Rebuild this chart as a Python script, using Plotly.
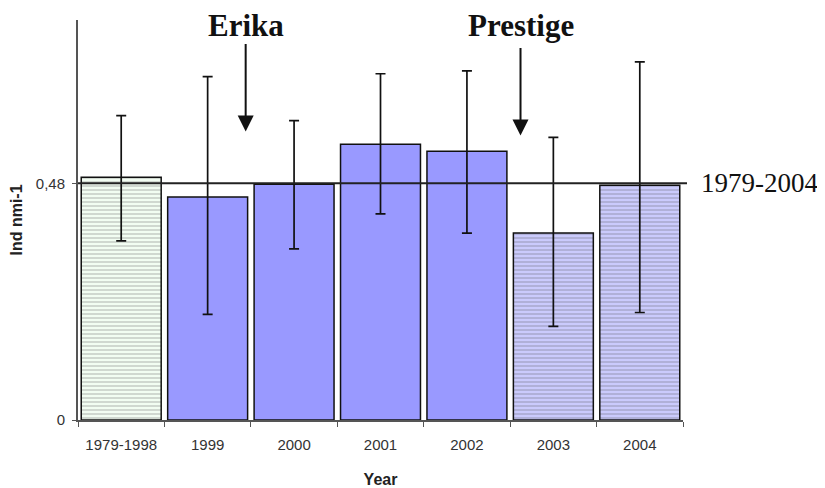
import plotly.graph_objects as go

categories = ["1979-1998", "1999", "2000", "2001", "2002", "2003", "2004"]
values = [0.492, 0.452, 0.478, 0.559, 0.545, 0.379, 0.476]
err_plus = [0.125, 0.244, 0.129, 0.143, 0.163, 0.194, 0.250]
err_minus = [0.129, 0.238, 0.131, 0.141, 0.166, 0.189, 0.258]
bar_colors = ["#F2FDF2", "#9999FF", "#9999FF", "#9999FF", "#9999FF", "#CACAFC", "#CACAFC"]
pattern_shapes = ["-", "", "", "", "", "-", "-"]
pattern_fg = ["#ECF8EC", "#9999FF", "#9999FF", "#9999FF", "#9999FF", "#BFBFF2", "#BFBFF2"]
mean_value = 0.48
mean_label = "1979-2004"
y_ticks = [0, 0.48]
y_ticktext = ["0", "0,48"]
events = [("Erika", 1.44), ("Prestige", 4.62)]

fig = go.Figure()
fig.add_trace(go.Bar(
    x=categories, y=values,
    marker=dict(color=bar_colors, line=dict(color="#111111", width=1.5),
                pattern=dict(shape=pattern_shapes, fgcolor=pattern_fg, size=4, solidity=0.2)),
    error_y=dict(type="data", symmetric=False, array=err_plus, arrayminus=err_minus,
                 color="#111111", thickness=1.7, width=5),
    showlegend=False,
))

fig.add_shape(type="line", xref="paper", yref="y", x0=0, x1=1.0066, y0=mean_value, y1=mean_value,
              line=dict(color="#222222", width=2))
fig.add_annotation(xref="paper", yref="y", x=1.031, y=mean_value, text=mean_label, showarrow=False,
                   xanchor="left", xshift=-3, font=dict(family="Liberation Serif", size=27, color="#111111"))

arrow_tips = [0.585, 0.577]
for (name, xpos), tip in zip(events, arrow_tips):
    fig.add_annotation(x=xpos, y=tip, xref="x", yref="y", text="", showarrow=True,
                       ax=0, ay=-89, arrowhead=2, arrowsize=1.6, arrowwidth=2, arrowcolor="#111111")
    fig.add_annotation(x=xpos, xref="x", y=1.0, yref="paper", yshift=-5, text="<b>%s</b>" % name,
                       showarrow=False, yanchor="middle",
                       font=dict(family="Liberation Serif", size=31, color="#111111"))

fig.update_layout(
    width=825, height=488,
    margin=dict(l=70, r=150, t=12, b=76),
    paper_bgcolor="white", plot_bgcolor="white",
    bargap=0.075,
    font=dict(family="Liberation Sans", size=15, color="#333333"),
    xaxis=dict(title=dict(text="<b>Year</b>", font=dict(size=16, color="#222222"), standoff=22),
               automargin=False,
               showline=True, linecolor="#555555", linewidth=2,
               ticks="outside", tickson="boundaries", ticklen=5, tickcolor="#555555",
               ticklabelstandoff=10,
               tickfont=dict(size=15, color="#333333"), showgrid=False),
    yaxis=dict(title=dict(text="<b>Ind nmi-1</b>", font=dict(size=16, color="#222222"), standoff=17),
               automargin=False,
               range=[0, 0.811], tickvals=y_ticks, ticktext=y_ticktext,
               showline=True, linecolor="#555555", linewidth=2,
               ticks="outside", ticklen=4, tickcolor="#555555",
               ticklabelstandoff=4,
               tickfont=dict(size=15, color="#333333"), showgrid=False, zeroline=False),
)

fig.write_html("out.html")
